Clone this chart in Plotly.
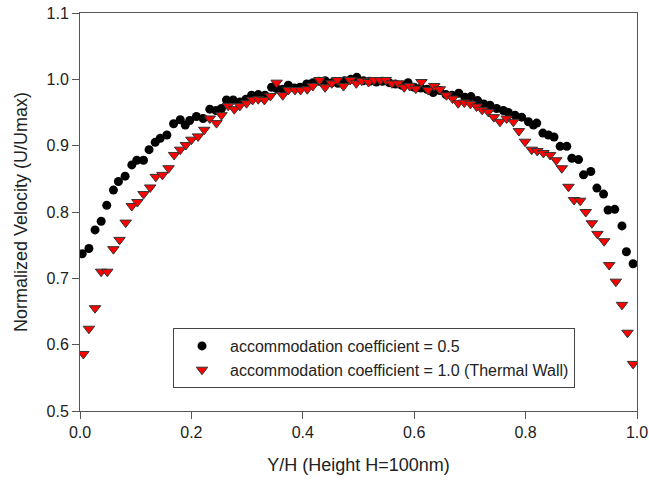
import plotly.graph_objects as go

# Series: accommodation coefficient = 0.5 (black circles)
x_ac05 = [0.004, 0.016, 0.027, 0.038, 0.048, 0.060, 0.069, 0.081, 0.093, 0.102,
          0.114, 0.124, 0.135, 0.144, 0.156, 0.168, 0.180, 0.189, 0.197, 0.209,
          0.221, 0.233, 0.244, 0.254, 0.263, 0.275, 0.287, 0.298, 0.308, 0.320,
          0.332, 0.344, 0.353, 0.364, 0.374, 0.385, 0.395, 0.407, 0.418, 0.429,
          0.440, 0.452, 0.463, 0.475, 0.486, 0.497, 0.509, 0.520, 0.532, 0.543,
          0.555, 0.566, 0.578, 0.589, 0.600, 0.612, 0.623, 0.634, 0.646, 0.657,
          0.668, 0.680, 0.691, 0.702, 0.714, 0.725, 0.736, 0.748, 0.760, 0.769,
          0.781, 0.793, 0.805, 0.814, 0.820, 0.831, 0.841, 0.851, 0.862, 0.874,
          0.883, 0.895, 0.904, 0.917, 0.928, 0.940, 0.948, 0.960, 0.973, 0.981,
          0.993]
y_ac05 = [0.737, 0.745, 0.773, 0.786, 0.810, 0.833, 0.846, 0.854, 0.871, 0.878,
          0.878, 0.894, 0.905, 0.911, 0.916, 0.933, 0.939, 0.931, 0.938, 0.944,
          0.941, 0.955, 0.953, 0.956, 0.969, 0.969, 0.966, 0.970, 0.976, 0.977,
          0.976, 0.988, 0.986, 0.985, 0.991, 0.987, 0.988, 0.993, 0.995, 0.997,
          0.998, 0.995, 0.994, 0.998, 1.000, 1.003, 0.998, 0.997, 0.996, 0.997,
          0.995, 0.993, 0.991, 0.995, 0.988, 0.987, 0.985, 0.980, 0.983, 0.977,
          0.976, 0.979, 0.973, 0.974, 0.968, 0.963, 0.961, 0.956, 0.953, 0.950,
          0.946, 0.943, 0.936, 0.931, 0.934, 0.919, 0.916, 0.913, 0.899, 0.899,
          0.881, 0.879, 0.856, 0.861, 0.836, 0.827, 0.803, 0.804, 0.779, 0.740,
          0.722]

# Series: accommodation coefficient = 1.0 (Thermal Wall) (red triangles)
x_ac10 = [0.006, 0.016, 0.027, 0.038, 0.049, 0.060, 0.071, 0.082, 0.093, 0.103,
          0.114, 0.126, 0.136, 0.148, 0.159, 0.169, 0.180, 0.190, 0.200, 0.212,
          0.223, 0.233, 0.245, 0.254, 0.266, 0.277, 0.287, 0.299, 0.310, 0.320,
          0.331, 0.342, 0.353, 0.364, 0.374, 0.386, 0.396, 0.408, 0.418, 0.430,
          0.440, 0.452, 0.462, 0.473, 0.485, 0.496, 0.506, 0.518, 0.528, 0.539,
          0.549, 0.560, 0.571, 0.582, 0.592, 0.603, 0.613, 0.625, 0.636, 0.646,
          0.658, 0.669, 0.679, 0.690, 0.701, 0.712, 0.722, 0.733, 0.743, 0.754,
          0.766, 0.778, 0.788, 0.799, 0.811, 0.821, 0.832, 0.844, 0.855, 0.865,
          0.877, 0.887, 0.898, 0.908, 0.919, 0.929, 0.941, 0.950, 0.962, 0.973,
          0.983, 0.993]
y_ac10 = [0.586, 0.624, 0.655, 0.710, 0.710, 0.744, 0.758, 0.784, 0.809, 0.815,
          0.827, 0.837, 0.853, 0.856, 0.866, 0.886, 0.894, 0.901, 0.909, 0.914,
          0.924, 0.941, 0.934, 0.946, 0.960, 0.955, 0.960, 0.964, 0.969, 0.970,
          0.969, 0.975, 0.995, 0.976, 0.984, 0.984, 0.984, 0.985, 0.990, 0.999,
          0.988, 0.994, 0.999, 0.990, 0.999, 0.994, 0.998, 0.996, 0.999, 0.999,
          0.999, 0.994, 0.994, 0.988, 0.990, 0.986, 0.996, 0.984, 0.990, 0.985,
          0.976, 0.971, 0.964, 0.965, 0.963, 0.959, 0.954, 0.951, 0.943, 0.936,
          0.941, 0.936, 0.922, 0.906, 0.894, 0.892, 0.889, 0.886, 0.878, 0.866,
          0.838, 0.818, 0.817, 0.800, 0.783, 0.767, 0.756, 0.720, 0.695, 0.660,
          0.618, 0.571]

name_ac05 = "accommodation coefficient = 0.5"
name_ac10 = "accommodation coefficient = 1.0 (Thermal Wall)"

x_ticks = [0.0, 0.2, 0.4, 0.6, 0.8, 1.0]
y_ticks = [0.5, 0.6, 0.7, 0.8, 0.9, 1.0, 1.1]

FONT = "Arial, 'Liberation Sans', sans-serif"
AXIS_COLOR = "#555555"

fig = go.Figure()
fig.add_trace(go.Scatter(
    x=x_ac05, y=y_ac05, mode="markers", name=name_ac05,
    marker=dict(symbol="circle", size=9, color="black", line=dict(width=0)),
))
fig.add_trace(go.Scatter(
    x=x_ac10, y=y_ac10, mode="markers", name=name_ac10,
    marker=dict(symbol="triangle-down", size=10, color="#ff0000",
                line=dict(width=1, color="#333333")),
))

fig.update_layout(
    width=649, height=482,
    margin=dict(l=80, r=12, t=13, b=71),
    paper_bgcolor="white", plot_bgcolor="white",
    font=dict(family=FONT, size=16, color="#222222"),
    showlegend=True,
    legend=dict(
        x=(173 - 80) / 557, y=(411 - 328) / 398,
        xanchor="left", yanchor="top",
        bordercolor="#444444", borderwidth=1, bgcolor="white",
        font=dict(family=FONT, size=16, color="#222222"),
        tracegroupgap=0, itemwidth=46,
    ),
    xaxis=dict(
        range=[0, 1], tickvals=x_ticks, ticktext=[f"{v:.1f}" for v in x_ticks],
        showgrid=False, zeroline=False, automargin=False,
        showline=True, linecolor=AXIS_COLOR, linewidth=1, mirror=True,
        ticks="outside", ticklen=7, tickcolor=AXIS_COLOR, tickwidth=1,
        tickfont=dict(size=16),
        title=dict(text="Y/H (Height H=100nm)", font=dict(size=18), standoff=18),
    ),
    yaxis=dict(
        range=[0.5, 1.1], tickvals=y_ticks, ticktext=[f"{v:.1f}" for v in y_ticks],
        showgrid=False, zeroline=False, automargin=False,
        showline=True, linecolor=AXIS_COLOR, linewidth=1, mirror=True,
        ticks="outside", ticklen=7, tickcolor=AXIS_COLOR, tickwidth=1,
        tickfont=dict(size=16),
        title=dict(text="Normalized Velocity (U/Umax)", font=dict(size=18), standoff=14),
    ),
)

fig.write_html("out.html")
